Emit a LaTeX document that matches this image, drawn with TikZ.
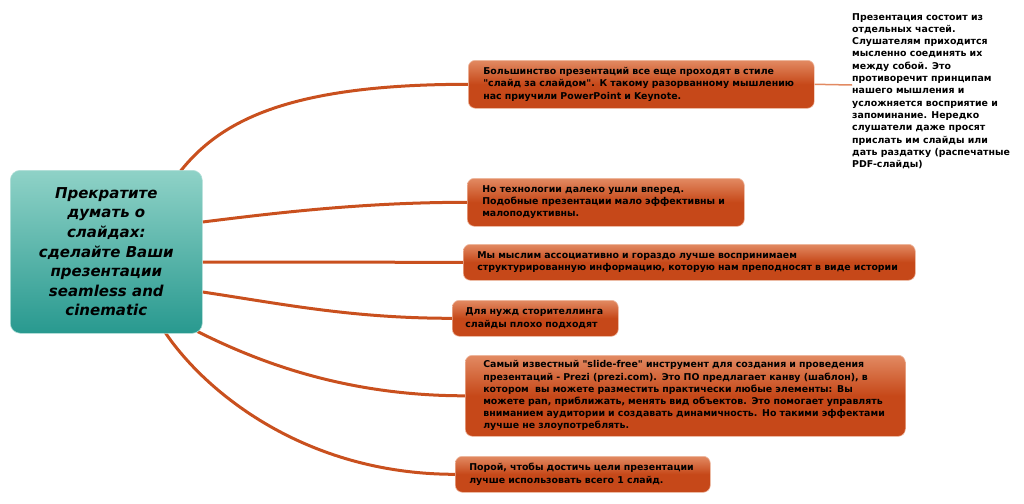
\documentclass[tikz,border=0pt]{standalone}
\usepackage{fontspec}
\setmainfont{DejaVu Sans}
\definecolor{otop}{HTML}{E28A62}
\definecolor{obot}{HTML}{C64819}
\definecolor{conn}{HTML}{C9501E}
\definecolor{ttop}{HTML}{8FD2C7}
\definecolor{tbot}{HTML}{28998F}
\newcommand{\qq}{\textquotedbl}
\pgfdeclarelayer{background}
\pgfsetlayers{background,main}
\begin{document}
\begin{tikzpicture}[x=1pt,y=-1pt,
  bx/.style={rounded corners=7pt, top color=otop, bottom color=obot, middle color=obot,
    draw=otop!60!white, line width=0.6pt, anchor=north west, align=left, inner xsep=15pt, inner ysep=0pt,
    font=\fontsize{9.4}{12.2}\selectfont\bfseries},
  conn/.style={draw=conn, line width=3pt},
  note/.style={anchor=north west, align=left, inner sep=0pt, font=\fontsize{9.4}{12.3}\selectfont\bfseries}]
\useasboundingbox (0,0) rectangle (1024,503);
\node[rounded corners=10pt, top color=ttop, bottom color=tbot, draw=ttop!70!white, line width=0.6pt,
  minimum width=192pt, minimum height=163pt, anchor=north west, align=center, inner sep=0pt,
  font=\fontsize{15}{19.6}\selectfont\bfseries\itshape] (c) at (10,170)
  {Прекратите\\думать о\\слайдах:\\сделайте Ваши\\презентации\\seamless and\\cinematic};
\node[bx, text width=316pt, minimum height=48pt] (b1) at (468,60)
  {Большинство презентаций все еще проходят в стиле\\\qq слайд за слайдом\qq. К такому разорванному мышлению\\нас приучили PowerPoint и Keynote.};
\node[bx, text width=247pt, minimum height=48pt] (b2) at (467,178)
  {Но технологии далеко ушли вперед.\\Подобные презентации мало эффективны и\\малоподуктивны.};
\node[bx, text width=424pt, minimum height=36pt, inner xsep=14pt] (b3) at (463,244)
  {Мы мыслим ассоциативно и гораздо лучше воспринимаем\\структурированную информацию, которую нам преподносят в виде истории};
\node[bx, text width=140pt, minimum height=36pt, inner xsep=13pt] (b4) at (452,300)
  {Для нужд сторителлинга\\слайды плохо подходят};
\node[bx, text width=404pt, minimum height=81pt, inner xsep=18pt] (b5) at (465,355)
  {Самый известный \qq slide-free\qq{} инструмент для создания и проведения\\презентаций - Prezi (prezi.com). Это ПО предлагает канву (шаблон), в\\котором\ \ вы можете разместить практически любые элементы: Вы\\можете pan, приближать, менять вид объектов. Это помогает управлять\\вниманием аудитории и создавать динамичность. Но такими эффектами\\лучше не злоупотреблять.};
\node[bx, text width=227pt, minimum height=36pt, inner xsep=14pt] (b6) at (455,456)
  {Порой, чтобы достичь цели презентации\\лучше использовать всего 1 слайд.};
\node[note] (n) at (852,13)
  {Презентация состоит из\\отдельных частей.\\Слушателям приходится\\мысленно соединять их\\между собой. Это\\противоречит принципам\\нашего мышления и\\усложняется восприятие и\\запоминание. Нередко\\слушатели даже просят\\прислать им слайды или\\дать раздатку (распечатные\\PDF-слайды)};
\coordinate (na) at (852,85);
\begin{pgfonlayer}{background}
\draw[conn] ([xshift=-22pt,yshift=-1pt]c.north east) .. controls +(40,-50) and +(-180,0) .. (b1.west);
\draw[conn] ([yshift=-52pt]c.north east) .. controls +(80,-10) and +(-100,0) .. (b2.west);
\draw[conn] ([yshift=-92pt]c.north east) .. controls +(80,0) and +(-80,0) .. (b3.west);
\draw[conn] ([yshift=-122pt]c.north east) .. controls +(80,12) and +(-100,0) .. (b4.west);
\draw[conn] ([xshift=-5pt,yshift=2pt]c.south east) .. controls +(60,30) and +(-120,0) .. (b5.west);
\draw[conn] ([xshift=-38pt,yshift=2pt]c.south east) .. controls +(40,60) and +(-150,0) .. (b6.west);
\end{pgfonlayer}
\draw[draw=otop, line width=1.5pt] (b1.east) -- (na);
\end{tikzpicture}
\end{document}
